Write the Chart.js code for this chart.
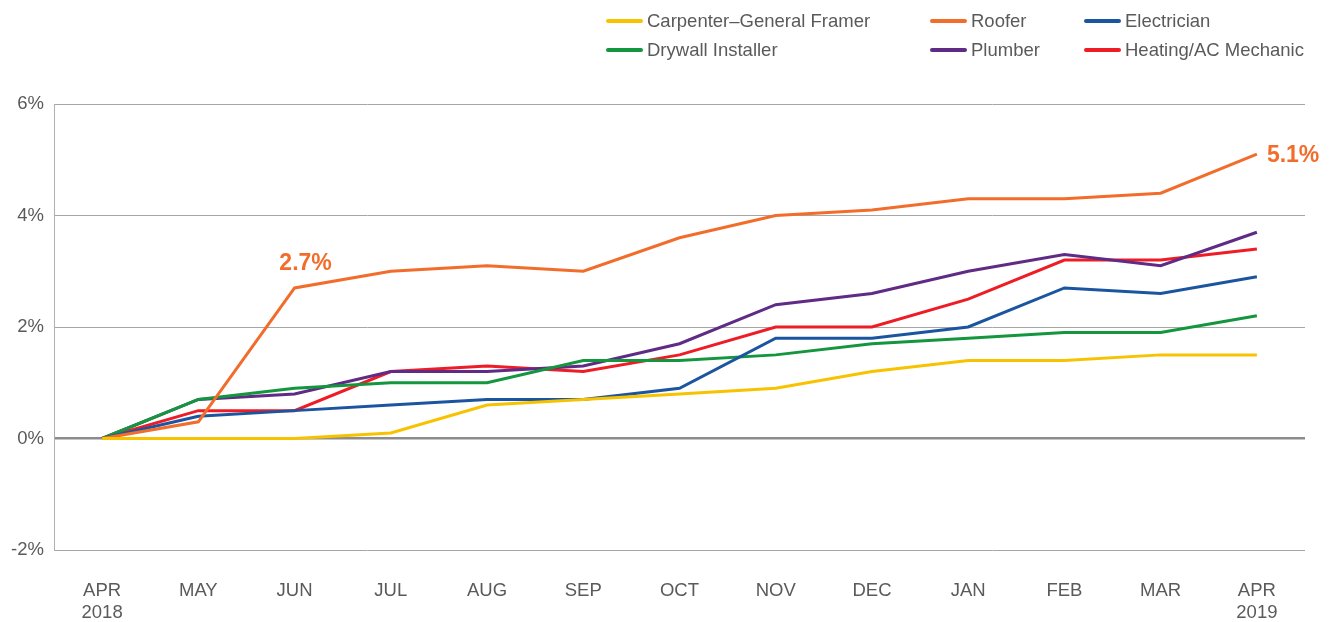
<!DOCTYPE html>
<html>
<head>
<meta charset="utf-8">
<script src="https://cdn.jsdelivr.net/npm/chart.js@4"></script>
<style>
  body { margin: 0; background: #fff; font-family: "Liberation Sans", Arial, sans-serif; }
  .wrap { position: relative; width: 1336px; height: 622px; }
  .legend-item { position: absolute; display: flex; align-items: center; font-size: 18.5px; color: #5a5a5a; white-space: nowrap; }
  .legend-item .sw { width: 37px; height: 4px; border-radius: 2px; margin-right: 4px; }
</style>
</head>
<body>
<div class="wrap">
  <canvas id="chart" width="1336" height="622"></canvas>
  <div id="legend"></div>
</div>
<script>
const months = [['APR', '2018'], 'MAY', 'JUN', 'JUL', 'AUG', 'SEP', 'OCT', 'NOV', 'DEC', 'JAN', 'FEB', 'MAR', ['APR', '2019']];

const carpenter = [0, 0, 0, 0.1, 0.6, 0.7, 0.8, 0.9, 1.2, 1.4, 1.4, 1.5, 1.5];
const roofer = [0, 0.3, 2.7, 3.0, 3.1, 3.0, 3.6, 4.0, 4.1, 4.3, 4.3, 4.4, 5.1];
const electrician = [0, 0.4, 0.5, 0.6, 0.7, 0.7, 0.9, 1.8, 1.8, 2.0, 2.7, 2.6, 2.9];
const drywall = [0, 0.7, 0.9, 1.0, 1.0, 1.4, 1.4, 1.5, 1.7, 1.8, 1.9, 1.9, 2.2];
const plumber = [0, 0.7, 0.8, 1.2, 1.2, 1.3, 1.7, 2.4, 2.6, 3.0, 3.3, 3.1, 3.7];
const heating = [0, 0.5, 0.5, 1.2, 1.3, 1.2, 1.5, 2.0, 2.0, 2.5, 3.2, 3.2, 3.4];

const series = [
  { label: 'Carpenter–General Framer', data: carpenter, color: '#f7c300', lx: 606, ly: 21 },
  { label: 'Roofer', data: roofer, color: '#f26d2b', lx: 930, ly: 21 },
  { label: 'Electrician', data: electrician, color: '#1b55a0', lx: 1084, ly: 21 },
  { label: 'Drywall Installer', data: drywall, color: '#14963f', lx: 606, ly: 50 },
  { label: 'Plumber', data: plumber, color: '#5f2b85', lx: 930, ly: 50 },
  { label: 'Heating/AC Mechanic', data: heating, color: '#ee1c25', lx: 1084, ly: 50 },
];

// callouts on the roofer line: [index, dx, dy, align]
const callouts = [
  [2, 11, -24, 'center'],
  [12, 10, 1, 'left'],
];

const legend = document.getElementById('legend');
series.forEach((s) => {
  const item = document.createElement('div');
  item.className = 'legend-item';
  item.style.left = s.lx + 'px';
  item.style.top = (s.ly - 10) + 'px';
  item.style.height = '20px';
  item.innerHTML = '<span class="sw" style="background:' + s.color + '"></span>' + s.label;
  legend.appendChild(item);
});

const calloutPlugin = {
  id: 'callouts',
  afterDatasetsDraw(chart) {
    const ctx = chart.ctx;
    const meta = chart.getDatasetMeta(1);
    ctx.save();
    ctx.fillStyle = '#f26d2b';
    ctx.font = 'bold 23px "Liberation Sans", Arial, sans-serif';
    ctx.textBaseline = 'middle';
    callouts.forEach(([i, dx, dy, align]) => {
      const pt = meta.data[i];
      ctx.textAlign = align;
      ctx.fillText(roofer[i].toFixed(1) + '%', pt.x + dx, pt.y + dy);
    });
    ctx.restore();
  },
};

const tickFont = { family: '"Liberation Sans", Arial, sans-serif', size: 18.5, lineHeight: 1.2 };

new Chart(document.getElementById('chart'), {
  type: 'line',
  data: {
    labels: months,
    datasets: series.map((s) => ({
      label: s.label,
      data: s.data,
      borderColor: s.color,
      backgroundColor: s.color,
      borderWidth: 3,
      pointRadius: 0,
      tension: 0,
    })),
  },
  options: {
    responsive: false,
    animation: false,
    layout: { padding: { top: 104, right: 31, left: 0, bottom: 0 } },
    plugins: {
      legend: { display: false },
      tooltip: { enabled: false },
    },
    scales: {
      x: {
        offset: true,
        grid: { display: false },
        border: { display: false },
        ticks: {
          color: '#5a5a5a',
          font: tickFont,
          padding: 22,
          maxRotation: 0,
        },
        afterFit(scale) { scale.height = 72; },
      },
      y: {
        min: -2,
        max: 6,
        ticks: {
          stepSize: 2,
          color: '#5a5a5a',
          font: tickFont,
          padding: 10,
          callback: (v) => v + '%',
        },
        grid: {
          drawTicks: false,
          color: (c) => (c.tick && c.tick.value === 0 ? '#8c8c8c' : '#a6a6a6'),
          lineWidth: (c) => (c.tick && c.tick.value === 0 ? 2.5 : 1),
        },
        border: { display: true, color: '#b0b0b0', width: 1 },
        afterFit(scale) { scale.width = 54; },
      },
    },
  },
  plugins: [calloutPlugin],
});
</script>
</body>
</html>
